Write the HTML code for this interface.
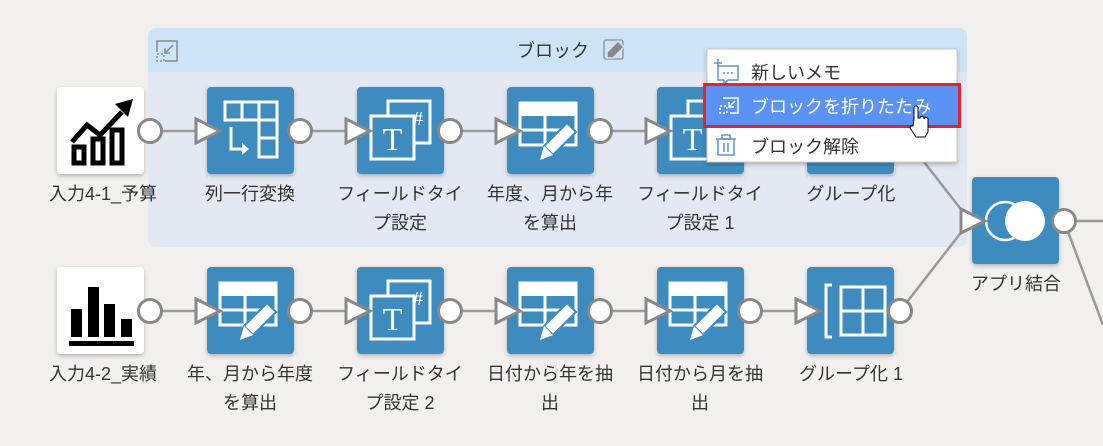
<!DOCTYPE html>
<html><head><meta charset="utf-8"><style>
html,body{margin:0;padding:0;background:#f2efee;}
svg{display:block}
text{font-family:"Liberation Sans","Noto Sans CJK JP",sans-serif;}
text.serif{font-family:"Liberation Serif",serif;}
</style></head><body>
<svg width="1103" height="446" viewBox="0 0 1103 446" xmlns="http://www.w3.org/2000/svg">
<defs>
<filter id="sh" x="-20%" y="-20%" width="140%" height="150%"><feDropShadow dx="0" dy="2" stdDeviation="2" flood-color="#000" flood-opacity="0.25"/></filter>
<g id="edit">
 <rect x="13" y="16" width="56" height="42" fill="none" stroke="#fff" stroke-width="3"/>
 <rect x="13" y="16" width="56" height="13" fill="#fff"/>
 <line x1="13" y1="43" x2="69" y2="43" stroke="#fff" stroke-width="3"/>
 <line x1="38" y1="29" x2="38" y2="58" stroke="#fff" stroke-width="3"/>
 <polygon points="60,36 69,45 46,68 37,59" fill="#fff" stroke="#3d8bbf" stroke-width="2"/>
 <polygon points="37,59 46,68 33,73" fill="#fff"/>
</g>
<g id="ftype">
 <rect x="31" y="14" width="42" height="42" fill="none" stroke="#fff" stroke-width="3"/>
 <text x="56" y="38" font-size="20" fill="#fff" class="serif">#</text>
 <rect x="14" y="29" width="43" height="43" fill="#3d8bbf" stroke="#fff" stroke-width="3"/>
 <text x="35.5" y="63" font-size="32" fill="#fff" text-anchor="middle" class="serif">T</text>
</g>
<g id="colrow">
 <rect x="18" y="15" width="52" height="18" fill="none" stroke="#fff" stroke-width="3"/>
 <line x1="35" y1="15" x2="35" y2="33" stroke="#fff" stroke-width="3"/>
 <line x1="52" y1="15" x2="52" y2="70" stroke="#fff" stroke-width="3"/>
 <rect x="52" y="33" width="18" height="37" fill="none" stroke="#fff" stroke-width="3"/>
 <line x1="52" y1="51" x2="70" y2="51" stroke="#fff" stroke-width="3"/>
 <polyline points="24,40 24,62 36,62" fill="none" stroke="#fff" stroke-width="3"/>
 <polygon points="35,56 42,62 35,68" fill="#fff"/>
</g>
<g id="group">
 <polyline points="25,18 19,18 19,70 25,70" fill="none" stroke="#fff" stroke-width="3"/>
 <rect x="34" y="20" width="44" height="48" fill="none" stroke="#fff" stroke-width="3"/>
 <line x1="56" y1="20" x2="56" y2="68" stroke="#fff" stroke-width="3"/>
 <line x1="34" y1="44" x2="78" y2="44" stroke="#fff" stroke-width="3"/>
</g>
<g id="tri"><polygon points="0,-12 24,0 0,12" fill="#fff" stroke="#888" stroke-width="3" stroke-linejoin="miter"/></g>
<g id="circ"><circle r="11.5" fill="#fff" stroke="#888" stroke-width="3"/></g>
</defs>

<rect x="148" y="28" width="819" height="219" rx="8" fill="#e3e8f2"/>
<path d="M156 28 H959 A8 8 0 0 1 967 36 V72 H148 V36 A8 8 0 0 1 156 28Z" fill="#cce4f7"/>
<rect x="157" y="41" width="20" height="20" fill="none" stroke="#888" stroke-width="1.5"/>
<rect x="155" y="52" width="10" height="10" fill="#cce4f7"/>
<rect x="157" y="54" width="7" height="7" fill="none" stroke="#888" stroke-width="1.5" stroke-dasharray="2 2"/>
<line x1="173" y1="45" x2="165" y2="53" stroke="#888" stroke-width="1.5"/>
<polyline points="165,48 165,53 170,53" fill="none" stroke="#888" stroke-width="1.5"/>
<text x="517" y="57" font-size="18" fill="#333">ブロック</text>
<rect x="604" y="40" width="19" height="19" rx="2" fill="none" stroke="#999" stroke-width="1.5"/>
<polygon points="618,41 624,47 613,58 607,58 607,52" fill="#888" stroke="#cce4f7" stroke-width="1.5"/>

<g stroke="#999" stroke-width="2.5">
 <line x1="150" y1="131" x2="205" y2="131"/>
 <line x1="300" y1="131" x2="355" y2="131"/>
 <line x1="450" y1="131" x2="505" y2="131"/>
 <line x1="600" y1="131" x2="655" y2="131"/>
 <line x1="150" y1="311" x2="205" y2="311"/>
 <line x1="300" y1="311" x2="355" y2="311"/>
 <line x1="450" y1="311" x2="505" y2="311"/>
 <line x1="600" y1="311" x2="655" y2="311"/>
 <line x1="750" y1="311" x2="805" y2="311"/>
 <line x1="900" y1="131" x2="970" y2="221"/>
 <line x1="900" y1="311" x2="970" y2="221"/>
 <line x1="1064" y1="221" x2="1103" y2="221"/>
 <line x1="1064" y1="221" x2="1103" y2="325"/>
</g>

<g filter="url(#sh)">
 <rect x="57" y="87" width="87" height="87" rx="4" fill="#fff"/>
 <rect x="207" y="87" width="87" height="87" rx="4" fill="#3d8bbf"/>
 <rect x="357" y="87" width="87" height="87" rx="4" fill="#3d8bbf"/>
 <rect x="507" y="87" width="87" height="87" rx="4" fill="#3d8bbf"/>
 <rect x="657" y="87" width="87" height="87" rx="4" fill="#3d8bbf"/>
 <rect x="807" y="87" width="87" height="87" rx="4" fill="#3d8bbf"/>
 <rect x="57" y="267" width="87" height="87" rx="4" fill="#fff"/>
 <rect x="207" y="267" width="87" height="87" rx="4" fill="#3d8bbf"/>
 <rect x="357" y="267" width="87" height="87" rx="4" fill="#3d8bbf"/>
 <rect x="507" y="267" width="87" height="87" rx="4" fill="#3d8bbf"/>
 <rect x="657" y="267" width="87" height="87" rx="4" fill="#3d8bbf"/>
 <rect x="807" y="267" width="87" height="87" rx="4" fill="#3d8bbf"/>
 <rect x="972" y="177" width="87" height="87" rx="4" fill="#3d8bbf"/>
</g>

<g transform="translate(57,87)">
 <polyline points="15,55 30,38 43,48 65,25" fill="none" stroke="#000" stroke-width="5"/>
 <polygon points="58,17 76,12 71,30" fill="#000"/>
 <rect x="17" y="60" width="10" height="16" fill="none" stroke="#000" stroke-width="5"/>
 <rect x="36" y="52" width="10" height="24" fill="none" stroke="#000" stroke-width="5"/>
 <rect x="55" y="43" width="10" height="33" fill="none" stroke="#000" stroke-width="5"/>
</g>
<g transform="translate(57,267)" fill="#000">
 <rect x="14" y="42" width="11" height="28"/>
 <rect x="31" y="20" width="11" height="50"/>
 <rect x="47" y="37" width="11" height="33"/>
 <rect x="64" y="52" width="11" height="18"/>
 <rect x="12" y="74" width="65" height="5"/>
</g>
<use href="#colrow" transform="translate(207,87)"/>
<use href="#ftype" transform="translate(357,87)"/>
<use href="#edit" transform="translate(507,87)"/>
<use href="#ftype" transform="translate(657,87)"/>
<use href="#group" transform="translate(807,87)"/>
<use href="#edit" transform="translate(207,267)"/>
<use href="#ftype" transform="translate(357,267)"/>
<use href="#edit" transform="translate(507,267)"/>
<use href="#edit" transform="translate(657,267)"/>
<use href="#group" transform="translate(807,267)"/>
<g transform="translate(972,177)">
 <circle cx="33" cy="44" r="19" fill="none" stroke="#fff" stroke-width="2.5"/>
 <circle cx="53" cy="44" r="20" fill="#fff"/>
</g>

<use href="#tri" transform="translate(196,131)"/>
<use href="#tri" transform="translate(346,131)"/>
<use href="#tri" transform="translate(496,131)"/>
<use href="#tri" transform="translate(646,131)"/>
<use href="#tri" transform="translate(196,311)"/>
<use href="#tri" transform="translate(346,311)"/>
<use href="#tri" transform="translate(496,311)"/>
<use href="#tri" transform="translate(646,311)"/>
<use href="#tri" transform="translate(796,311)"/>
<use href="#tri" transform="translate(961,221)"/>
<use href="#circ" transform="translate(150,131)"/>
<use href="#circ" transform="translate(300,131)"/>
<use href="#circ" transform="translate(450,131)"/>
<use href="#circ" transform="translate(600,131)"/>
<use href="#circ" transform="translate(150,311)"/>
<use href="#circ" transform="translate(300,311)"/>
<use href="#circ" transform="translate(450,311)"/>
<use href="#circ" transform="translate(600,311)"/>
<use href="#circ" transform="translate(750,311)"/>
<use href="#circ" transform="translate(900,311)"/>
<use href="#circ" transform="translate(1064,221)"/>

<g font-size="18" fill="#333" text-anchor="middle">
 <text x="103" y="200">入力4-1_予算</text>
 <text x="250" y="200">列一行変換</text>
 <text x="400" y="200">フィールドタイ</text>
 <text x="400" y="229">プ設定</text>
 <text x="550" y="200">年度、月から年</text>
 <text x="550" y="229">を算出</text>
 <text x="700" y="200">フィールドタイ</text>
 <text x="700" y="229">プ設定 1</text>
 <text x="851" y="200">グループ化</text>
 <text x="103" y="380">入力4-2_実績</text>
 <text x="250" y="380">年、月から年度</text>
 <text x="250" y="409">を算出</text>
 <text x="400" y="380">フィールドタイ</text>
 <text x="400" y="409">プ設定 2</text>
 <text x="550" y="380">日付から年を抽</text>
 <text x="550" y="409">出</text>
 <text x="700" y="380">日付から月を抽</text>
 <text x="700" y="409">出</text>
 <text x="851" y="380">グループ化 1</text>
 <text x="1016" y="290">アプリ結合</text>
</g>

<rect x="707" y="49" width="250" height="113" fill="#fff" stroke="#ccc" stroke-width="1" filter="url(#sh)"/>
<g stroke="#5b93d5" stroke-width="1.5" fill="none">
 <path d="M718 66 H738 V80 H728 L724 84 V80 H718 Z"/>
 <line x1="718" y1="59" x2="718" y2="67"/><line x1="714" y1="63" x2="722" y2="63"/>
</g>
<g fill="#5b93d5"><circle cx="724" cy="73" r="1"/><circle cx="728" cy="73" r="1"/><circle cx="732" cy="73" r="1"/></g>
<text x="751" y="79" font-size="18" fill="#333">新しいメモ</text>
<rect x="704.5" y="84.5" width="255" height="42" fill="#5b93f5" stroke="#e8212b" stroke-width="3"/>
<g stroke="#fff" stroke-width="1.5" fill="none">
 <polyline points="723,98 738,98 738,113 730,113"/>
 <line x1="735" y1="101" x2="729" y2="107"/><polyline points="729,102 729,107 734,107"/>
</g>
<rect x="720" y="106" width="7" height="7" fill="none" stroke="#fff" stroke-width="1.5" stroke-dasharray="2 2"/>
<text x="751" y="113" font-size="18" fill="#fff">ブロックを折りたたみ</text>
<g stroke="#5b93d5" stroke-width="1.5" fill="none">
 <line x1="716" y1="139" x2="736" y2="139"/><rect x="722" y="135" width="8" height="4"/>
 <path d="M718 139 V155 H734 V139"/><line x1="724" y1="143" x2="724" y2="152"/><line x1="728" y1="143" x2="728" y2="152"/>
</g>
<text x="751" y="153" font-size="18" fill="#333">ブロック解除</text>
<path d="M914 119 V108 a2 2 0 0 1 4 0 V118 h2 a2 2 0 0 1 4 1 h0 a2 2 0 0 1 4 1 V132 l-3 5 h-9 l-6 -9 a2 2 0 0 1 3 -2 Z" fill="#fff" stroke="#000" stroke-width="1"/>
</svg>
</body></html>
